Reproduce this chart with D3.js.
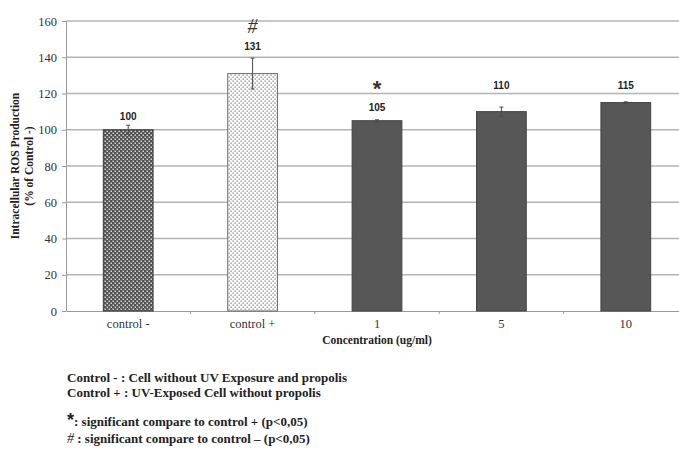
<!DOCTYPE html>
<html>
<head>
<meta charset="utf-8">
<script src="https://cdn.jsdelivr.net/npm/d3@7"></script>
<style>
  html, body { margin: 0; padding: 0; background: #fff; }
  svg { display: block; }
</style>
</head>
<body>
<div id="chart"></div>
<script>
// ROS production per treatment group (% of negative control)
const categories = ["control -", "control +", "1", "5", "10"];
const values = [100, 131, 105, 110, 115];
const errors = [2.5, 8.5, 0.5, 2.5, 0.4];
const valueLabels = ["100", "131", "105", "110", "115"];
const significance = ["", "#", "*", "", ""];
const yTicks = [0, 20, 40, 60, 80, 100, 120, 140, 160];
const legendLines = [
  "Control - : Cell without UV Exposure and propolis",
  "Control + : UV-Exposed  Cell without propolis"
];
const sigNotes = [
  { mark: "*", text: ": significant compare to control + (p<0,05)" },
  { mark: "#", text: " : significant compare to control \u2013 (p<0,05)" }
];

const W = 679, H = 449;
const serif = "'Liberation Serif', 'Times New Roman', serif";
const sans = "'Liberation Sans', Arial, sans-serif";

const svg = d3.select("#chart").append("svg")
  .attr("width", W).attr("height", H);

svg.append("rect").attr("width", W).attr("height", H).attr("fill", "#fff");

const x = d3.scaleBand().domain(categories)
  .range([66, 688]).paddingInner(0.6).paddingOuter(0.3);
const y = d3.scaleLinear().domain([0, 160]).range([311, 21]);

// fill patterns for the two control bars
const defs = svg.append("defs");
const pDark = defs.append("pattern").attr("id", "dotDark")
  .attr("patternUnits", "userSpaceOnUse").attr("width", 4).attr("height", 4);
pDark.append("rect").attr("width", 4).attr("height", 4).attr("fill", "#505050");
pDark.append("rect").attr("x", 0.5).attr("y", 0.5).attr("width", 1.5).attr("height", 1.5).attr("fill", "#d4d4d4");
pDark.append("rect").attr("x", 2.5).attr("y", 2.5).attr("width", 1.5).attr("height", 1.5).attr("fill", "#d4d4d4");

const pLight = defs.append("pattern").attr("id", "dotLight")
  .attr("patternUnits", "userSpaceOnUse").attr("width", 4).attr("height", 4);
pLight.append("rect").attr("width", 4).attr("height", 4).attr("fill", "#fbfbfb");
pLight.append("rect").attr("x", 0.5).attr("y", 0.5).attr("width", 1.3).attr("height", 1.3).attr("fill", "#8a8a8a");
pLight.append("rect").attr("x", 2.5).attr("y", 2.5).attr("width", 1.3).attr("height", 1.3).attr("fill", "#8a8a8a");

// horizontal gridlines
svg.append("g").selectAll("line")
  .data(yTicks.filter(d => d > 0))
  .join("line")
  .attr("x1", 66).attr("x2", 688)
  .attr("y1", d => y(d)).attr("y2", d => y(d))
  .attr("stroke", "#b4b4b4").attr("stroke-width", 1.3);

// y axis
const yAxis = svg.append("g").attr("transform", "translate(66,0)")
  .call(d3.axisLeft(y).tickValues(yTicks).tickSize(4).tickSizeOuter(0).tickPadding(5));
yAxis.select(".domain").attr("stroke", "#9a9a9a");
yAxis.selectAll(".tick line").attr("stroke", "#9a9a9a");
yAxis.selectAll("text").attr("font-family", serif).attr("font-size", 12.5).attr("fill", "#333");

// x axis baseline, boundary ticks and category labels
const xAxis = svg.append("g").attr("transform", "translate(0,311)")
  .call(d3.axisBottom(x).tickSize(0).tickSizeOuter(0).tickPadding(8));
xAxis.select(".domain").attr("stroke", "#9a9a9a").attr("stroke-width", 1.2);
xAxis.selectAll("text").attr("font-family", serif).attr("font-size", 12.5).attr("fill", "#333");

const step = x.step();
const bounds = categories.slice(1).map(c => x(c) - (step - x.bandwidth()) / 2);
svg.append("g").selectAll("line").data(bounds).join("line")
  .attr("x1", d => d).attr("x2", d => d)
  .attr("y1", 311).attr("y2", 314)
  .attr("stroke", "#9a9a9a");

// bars
const fills = ["url(#dotDark)", "url(#dotLight)", "#575757", "#575757", "#575757"];
const strokes = ["#3a3a3a", "#6e6e6e", "#444", "#444", "#444"];
svg.append("g").selectAll("rect")
  .data(values)
  .join("rect")
  .attr("x", (d, i) => x(categories[i]))
  .attr("y", d => y(d))
  .attr("width", x.bandwidth())
  .attr("height", d => y(0) - y(d))
  .attr("fill", (d, i) => fills[i])
  .attr("stroke", (d, i) => strokes[i])
  .attr("stroke-width", 1);

// error bars
const eg = svg.append("g").attr("stroke", "#4a4a4a").attr("stroke-width", 1);
values.forEach((v, i) => {
  const cx = x(categories[i]) + x.bandwidth() / 2;
  const hi = y(v + errors[i]), lo = y(v - errors[i]);
  eg.append("line").attr("x1", cx).attr("x2", cx).attr("y1", hi).attr("y2", lo);
  eg.append("line").attr("x1", cx - 2).attr("x2", cx + 2).attr("y1", hi).attr("y2", hi);
  eg.append("line").attr("x1", cx - 2).attr("x2", cx + 2).attr("y1", lo).attr("y2", lo);
});

// value labels above the bars (pixels above each bar top)
const labelRaise = [10, 23.5, 10, 23, 14];
svg.append("g").selectAll("text")
  .data(valueLabels)
  .join("text")
  .attr("x", (d, i) => x(categories[i]) + x.bandwidth() / 2)
  .attr("y", (d, i) => y(values[i]) - labelRaise[i])
  .attr("text-anchor", "middle")
  .attr("font-family", sans).attr("font-weight", "bold").attr("font-size", 10)
  .attr("fill", "#222")
  .text(d => d);

// significance marks
values.forEach((v, i) => {
  const m = significance[i];
  if (!m) return;
  const cx = x(categories[i]) + x.bandwidth() / 2;
  const base = y(v) - labelRaise[i];
  if (m === "#") {
    svg.append("text").attr("x", cx).attr("y", base - 17)
      .attr("text-anchor", "middle").attr("font-family", serif)
      .attr("font-style", "italic").attr("font-size", 20).attr("fill", "#333").text(m);
  } else {
    svg.append("text").attr("x", cx).attr("y", base - 15)
      .attr("text-anchor", "middle").attr("font-family", sans).attr("font-weight", "bold")
      .attr("font-size", 22).attr("fill", "#333").text(m);
  }
});

// axis titles
svg.append("text")
  .attr("transform", "translate(19,166) rotate(-90)")
  .attr("text-anchor", "middle")
  .attr("font-family", serif).attr("font-weight", "bold").attr("font-size", 11.5)
  .attr("fill", "#222")
  .text("Intracellular  ROS Production");
svg.append("text")
  .attr("transform", "translate(33,166) rotate(-90)")
  .attr("text-anchor", "middle")
  .attr("font-family", serif).attr("font-weight", "bold").attr("font-size", 11.5)
  .attr("fill", "#222")
  .text("(% of Control -)");

svg.append("text")
  .attr("x", 377).attr("y", 344)
  .attr("text-anchor", "middle")
  .attr("font-family", serif).attr("font-weight", "bold").attr("font-size", 11.5)
  .attr("fill", "#222")
  .text("Concentration  (ug/ml)");

// notes under the chart
svg.append("g").selectAll("text")
  .data(legendLines)
  .join("text")
  .attr("x", 67).attr("y", (d, i) => 382 + i * 15)
  .attr("font-family", serif).attr("font-weight", "bold").attr("font-size", 13)
  .attr("fill", "#222")
  .text(d => d);

const notes = svg.append("g");
sigNotes.forEach((n, i) => {
  const t = notes.append("text")
    .attr("x", 67).attr("y", 426 + i * 17)
    .attr("font-family", serif).attr("font-weight", "bold").attr("font-size", 13)
    .attr("fill", "#222");
  if (n.mark === "*") {
    t.append("tspan").attr("font-family", sans).attr("font-size", 18).text(n.mark);
  } else {
    t.append("tspan").attr("font-style", "italic").attr("font-weight", "normal").attr("font-size", 14).text(n.mark);
  }
  t.append("tspan").text(n.text);
});
</script>
</body>
</html>
